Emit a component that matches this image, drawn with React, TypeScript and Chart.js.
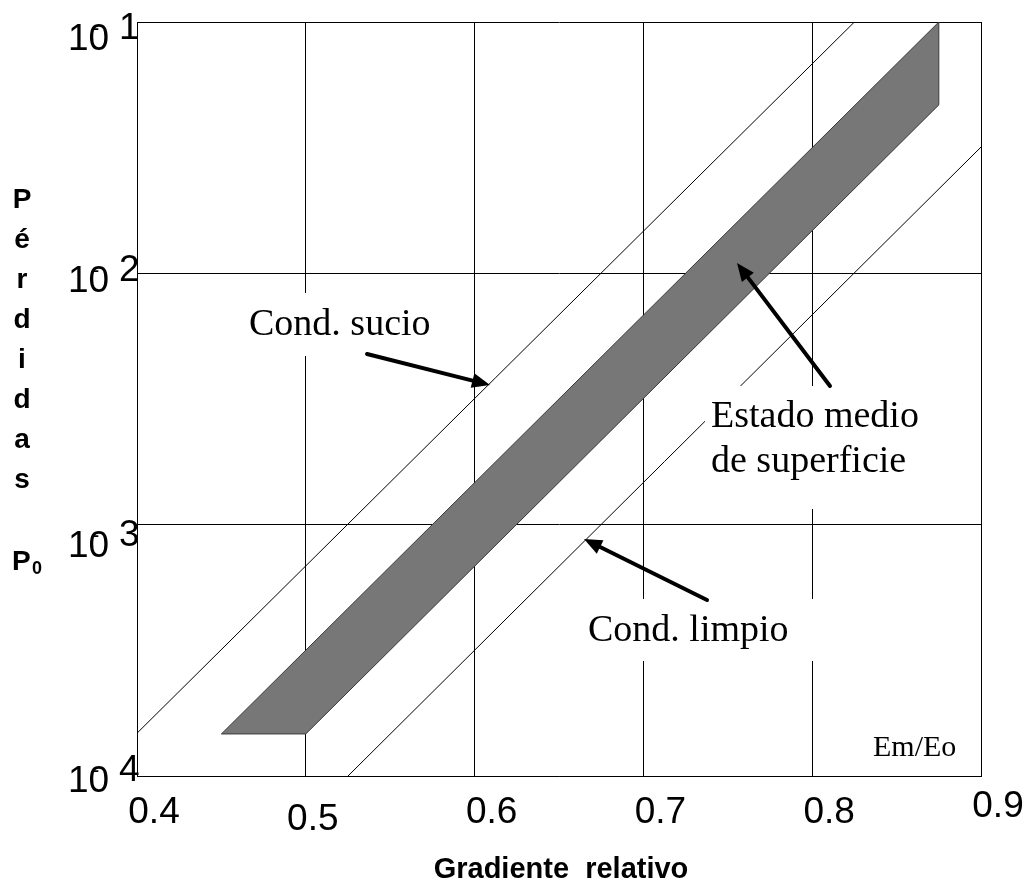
import React, { useEffect, useRef } from 'react';
import { Chart, registerables } from 'chart.js';

Chart.register(...registerables);

// ---- data ----
const xTicks = [0.4, 0.5, 0.6, 0.7, 0.8, 0.9];
const xTickLabels = ['0.4', '0.5', '0.6', '0.7', '0.8', '0.9'];
const yTicks = [1e-1, 1e-2, 1e-3, 1e-4];
const yTickExponents = ['1', '2', '3', '4'];

const sucioX = [0.4, 0.825];
const sucioY = [1.48e-4, 0.1];

const bandX = [0.45, 0.5, 0.875, 0.875, 0.45];
const bandY = [1.47e-4, 1.47e-4, 0.0468, 0.1, 1.47e-4];

const limpioX = [0.525, 0.9];
const limpioY = [1e-4, 0.0318];

const xTitle = 'Gradiente  relativo';
const yTitleLetters = ['P', 'é', 'r', 'd', 'i', 'd', 'a', 's'];
const noteSucio = 'Cond. sucio';
const noteMedio = ['Estado medio', 'de superficie'];
const noteLimpio = 'Cond. limpio';
const noteRatio = 'Em/Eo';

// ---- styles / layout ----
const W = 1027;
const H = 885;
const SERIF = "'Liberation Serif', 'Times New Roman', serif";
const SANS = "'Liberation Sans', Arial, sans-serif";
const xLabelDx = [17, 7, 17, 17, 17, 17];
const xLabelDy = [47, 54, 47, 47, 47, 41];
const yLabelDy = [28, 19, 32, 16];

const pts = (xs: number[], ys: number[]) => xs.map((x, i) => ({ x, y: ys[i] }));

function arrow(ctx: CanvasRenderingContext2D, x1: number, y1: number, x2: number, y2: number) {
  const ang = Math.atan2(y2 - y1, x2 - x1);
  const len = 18;
  const hw = 7.5;
  const bx = x2 - len * Math.cos(ang);
  const by = y2 - len * Math.sin(ang);
  ctx.save();
  ctx.strokeStyle = '#000';
  ctx.fillStyle = '#000';
  ctx.lineWidth = 4;
  ctx.lineCap = 'round';
  ctx.beginPath();
  ctx.moveTo(x1, y1);
  ctx.lineTo(bx, by);
  ctx.stroke();
  ctx.beginPath();
  ctx.moveTo(x2, y2);
  ctx.lineTo(bx + hw * Math.sin(ang), by - hw * Math.cos(ang));
  ctx.lineTo(bx - hw * Math.sin(ang), by + hw * Math.cos(ang));
  ctx.closePath();
  ctx.fill();
  ctx.restore();
}

const overlayPlugin = {
  id: 'overlay',
  afterDatasetsDraw(chart: any) {
    const ctx: CanvasRenderingContext2D = chart.ctx;
    ctx.save();
    // white text boxes covering grid
    ctx.fillStyle = '#fff';
    ctx.fillRect(240, 293, 200, 63);
    ctx.fillRect(705, 386, 220, 123);
    ctx.fillRect(578, 599, 252, 62);

    ctx.fillStyle = '#000';
    ctx.textAlign = 'left';
    ctx.textBaseline = 'alphabetic';
    ctx.font = `38px ${SERIF}`;
    ctx.fillText(noteSucio, 249, 335);
    ctx.fillText(noteMedio[0], 711, 427);
    ctx.fillText(noteMedio[1], 711, 472);
    ctx.fillText(noteLimpio, 588, 641);
    ctx.font = `30px ${SERIF}`;
    ctx.fillText(noteRatio, 873, 756);
    ctx.restore();

    arrow(ctx, 367, 354, 490, 385);
    arrow(ctx, 830, 386, 737, 263);
    arrow(ctx, 707, 600, 584, 539);
  },
  afterDraw(chart: any) {
    const ctx: CanvasRenderingContext2D = chart.ctx;
    const xs = chart.scales.x;
    const ys = chart.scales.y;
    const area = chart.chartArea;
    ctx.save();
    ctx.fillStyle = '#000';
    ctx.textBaseline = 'alphabetic';

    // x tick labels
    ctx.font = `37px ${SANS}`;
    ctx.textAlign = 'center';
    xTicks.forEach((v, i) => {
      ctx.fillText(xTickLabels[i], xs.getPixelForValue(v) + xLabelDx[i], area.bottom + xLabelDy[i]);
    });

    // y tick labels (10 with raised exponent, minus dash over the 0)
    ctx.textAlign = 'left';
    yTicks.forEach((v, i) => {
      const base = ys.getPixelForValue(v) + yLabelDy[i];
      ctx.font = `37px ${SANS}`;
      ctx.fillText('10', 68, base);
      ctx.fillText(yTickExponents[i], 119, base - 11);
      ctx.font = `22px ${SANS}`;
      ctx.fillText('-', 92, base - 15);
    });

    // axis titles
    ctx.font = `bold 29px ${SANS}`;
    ctx.textAlign = 'center';
    ctx.fillText(xTitle, 561, 878);

    ctx.font = `bold 28px ${SANS}`;
    yTitleLetters.forEach((ch, i) => {
      ctx.fillText(ch, 22, 208 + i * 40);
    });
    ctx.textAlign = 'left';
    ctx.fillText('P', 12, 570);
    ctx.font = `bold 18px ${SANS}`;
    ctx.fillText('0', 32, 574);
    ctx.restore();
  },
};

export default function App() {
  const ref = useRef<HTMLCanvasElement | null>(null);
  useEffect(() => {
    if (!ref.current) return;
    const chart = new Chart(ref.current, {
      type: 'scatter',
      data: {
        datasets: [
          {
            data: pts(bandX, bandY),
            showLine: true,
            fill: 'shape',
            backgroundColor: '#777777',
            borderColor: '#3a3a3a',
            borderWidth: 1,
            pointRadius: 0,
            tension: 0,
          },
          {
            data: pts(sucioX, sucioY),
            showLine: true,
            borderColor: '#000',
            borderWidth: 1,
            pointRadius: 0,
          },
          {
            data: pts(limpioX, limpioY),
            showLine: true,
            borderColor: '#000',
            borderWidth: 1,
            pointRadius: 0,
          },
        ],
      },
      options: {
        responsive: false,
        animation: false,
        events: [],
        layout: { padding: { left: 137, top: 22, right: W - 981, bottom: H - 776 } },
        plugins: {
          legend: { display: false },
          tooltip: { enabled: false },
          title: { display: false },
        },
        scales: {
          x: {
            type: 'linear',
            min: 0.4,
            max: 0.9,
            afterBuildTicks: (s: any) => {
              s.ticks = xTicks.map((v) => ({ value: v }));
            },
            ticks: { display: false },
            grid: { color: '#000', lineWidth: 1, drawTicks: false },
            border: { display: true, color: '#000', width: 1 },
          },
          y: {
            type: 'logarithmic',
            min: 1e-4,
            max: 1e-1,
            afterBuildTicks: (s: any) => {
              s.ticks = yTicks.map((v) => ({ value: v }));
            },
            ticks: { display: false },
            grid: { color: '#000', lineWidth: 1, drawTicks: false },
            border: { display: true, color: '#000', width: 1 },
          },
        },
      },
      plugins: [overlayPlugin],
    });
    return () => chart.destroy();
  }, []);
  return (
    <div style={{ position: 'absolute', left: 0, top: 0, width: W, height: H, background: '#fff' }}>
      <canvas ref={ref} width={W} height={H} style={{ display: 'block' }} />
    </div>
  );
}
